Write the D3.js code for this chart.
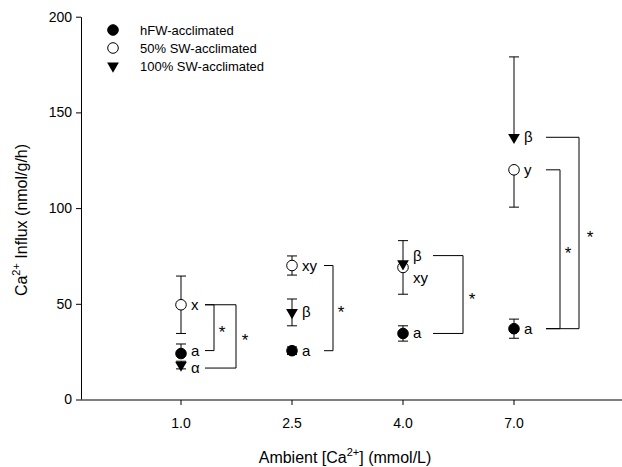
<!DOCTYPE html>
<html>
<head>
<meta charset="utf-8">
<script src="https://cdn.jsdelivr.net/npm/d3@7"></script>
<style>
  html, body { margin: 0; padding: 0; background: #fff; }
  svg { display: block; font-family: Arial, "Liberation Sans", sans-serif; }
</style>
</head>
<body>
<svg id="chart" width="622" height="467"></svg>
<script>
// Ambient calcium levels (mmol/L)
const categories = ["1.0", "2.5", "4.0", "7.0"];

// Ca2+ influx (nmol/g/h), mean and SEM for each acclimation group
const hfwMean  = [24, 25.5, 34.5, 37];
const hfwErr   = [5, 2, 4, 5];
const sw50Mean = [49.5, 70, 69, 120];
const sw50Err  = [15, 5, 14, 19.5];
const sw100Mean = [18, 45.5, 71, 137];
const sw100Err  = [2, 7, 12, 42];

// Significance letters within each group
const hfwLetters   = ["a", "a", "a", "a"];
const sw50Letters  = ["x", "xy", "xy", "y"];
const sw100Letters = ["α", "β", "β", "β"];

const yTicks = [0, 50, 100, 150, 200];
const seriesNames = ["hFW-acclimated", "50% SW-acclimated", "100% SW-acclimated"];

// Pairwise comparisons between groups (category index, upper group, lower group)
const comparisons = [
  { cat: 0, top: "sw50", bottom: "hfw" },
  { cat: 0, top: "sw50", bottom: "sw100" },
  { cat: 1, top: "sw50", bottom: "hfw" },
  { cat: 2, top: "sw100", bottom: "hfw" },
  { cat: 3, top: "sw50", bottom: "hfw" },
  { cat: 3, top: "sw100", bottom: "hfw" }
];

const svg = d3.select("#chart");

const y = d3.scaleLinear().domain([0, 200]).range([399.5, 16.7]);
const xi = d3.scaleLinear().domain([0, 3]).range([181, 514]);
const xAxisLeft = 81, xAxisRight = 622, xAxisY = 400;

const series = {
  hfw:   { mean: hfwMean,   err: hfwErr,   letters: hfwLetters,   shape: "filled" },
  sw50:  { mean: sw50Mean,  err: sw50Err,  letters: sw50Letters,  shape: "open" },
  sw100: { mean: sw100Mean, err: sw100Err, letters: sw100Letters, shape: "tri" }
};
// which whiskers are drawn: "both", "up" or "down"
const whiskerDir = {
  hfw:   ["up", "both", "both", "both"],
  sw50:  ["both", "both", "down", "down"],
  sw100: ["both", "both", "up", "up"]
};
// vertical nudges for letters so neighbouring labels do not collide
const letterDy = {
  hfw:   [-3, 0, 0, 0],
  sw50:  [0, 0, 11, 0],
  sw100: [3, 0, -8, 0]
};
// bracket geometry relative to the category position
const bracketGeom = [
  { left: 24, vert: 33, star: 41 },
  { left: 24, vert: 55, star: 64 },
  { left: 32, vert: 41, star: 49 },
  { left: 30, vert: 60, star: 69 },
  { left: 32, vert: 46, star: 54 },
  { left: 32, vert: 65, star: 76 }
];

// ---- Y axis ----
const yAxis = d3.axisLeft(y).tickValues(yTicks).tickSize(5).tickSizeOuter(0).tickPadding(4);
const gy = svg.append("g").attr("transform", `translate(${xAxisLeft},0)`).call(yAxis);
gy.select(".domain").attr("stroke", "#000").attr("stroke-width", 1);
gy.selectAll(".tick line").attr("stroke", "#000");
gy.selectAll(".tick text").attr("font-size", 14).attr("fill", "#000")
  .attr("font-family", 'Arial, "Liberation Sans", sans-serif');

// ---- X axis ----
svg.append("line")
  .attr("x1", xAxisLeft).attr("x2", xAxisRight)
  .attr("y1", xAxisY).attr("y2", xAxisY)
  .attr("stroke", "#555").attr("stroke-width", 1.6);
const gx = svg.append("g");
categories.forEach((c, i) => {
  gx.append("line")
    .attr("x1", xi(i)).attr("x2", xi(i))
    .attr("y1", xAxisY).attr("y2", xAxisY + 5)
    .attr("stroke", "#000");
  gx.append("text")
    .attr("x", xi(i)).attr("y", xAxisY + 28)
    .attr("text-anchor", "middle").attr("font-size", 14)
    .text(c);
});

// ---- Axis titles ----
const xt = svg.append("text")
  .attr("x", 345).attr("y", 463)
  .attr("text-anchor", "middle").attr("font-size", 16);
xt.append("tspan").text("Ambient [Ca");
xt.append("tspan").attr("dy", -7).attr("font-size", 11).text("2+");
xt.append("tspan").attr("dy", 7).text("] (mmol/L)");

const yt = svg.append("text")
  .attr("transform", "translate(27,220) rotate(-90)")
  .attr("text-anchor", "middle").attr("font-size", 16);
yt.append("tspan").text("Ca");
yt.append("tspan").attr("dy", -7).attr("font-size", 11).text("2+");
yt.append("tspan").attr("dy", 7).text(" Influx (nmol/g/h)");

// ---- Markers ----
function drawMarker(g, shape, cx, cy) {
  if (shape === "filled") {
    g.append("circle").attr("cx", cx).attr("cy", cy).attr("r", 5.3)
      .attr("fill", "#000").attr("stroke", "#000");
  } else if (shape === "open") {
    g.append("circle").attr("cx", cx).attr("cy", cy).attr("r", 5.3)
      .attr("fill", "#fff").attr("stroke", "#000").attr("stroke-width", 1);
  } else {
    const tri = d3.symbol().type(d3.symbolTriangle).size(60)();
    g.append("path").attr("d", tri)
      .attr("transform", `translate(${cx},${cy}) rotate(180)`)
      .attr("fill", "#000");
  }
}

const plot = svg.append("g");
["hfw", "sw50", "sw100"].forEach(key => {
  const s = series[key];
  const g = plot.append("g");
  s.mean.forEach((m, i) => {
    const cx = xi(i);
    const dir = whiskerDir[key][i];
    const hi = dir === "down" ? m : m + s.err[i];
    const lo = dir === "up" ? m : m - s.err[i];
    g.append("line").attr("x1", cx).attr("x2", cx)
      .attr("y1", y(hi)).attr("y2", y(lo)).attr("stroke", "#000");
    if (dir !== "down") {
      g.append("line").attr("x1", cx - 5).attr("x2", cx + 5)
        .attr("y1", y(hi)).attr("y2", y(hi)).attr("stroke", "#000");
    }
    if (dir !== "up") {
      g.append("line").attr("x1", cx - 5).attr("x2", cx + 5)
        .attr("y1", y(lo)).attr("y2", y(lo)).attr("stroke", "#000");
    }
    drawMarker(g, s.shape, cx, y(m));
  });
});

// ---- Letters ----
function letterY(key, i) {
  return y(series[key].mean[i]) + letterDy[key][i];
}
["hfw", "sw50", "sw100"].forEach(key => {
  const s = series[key];
  s.letters.forEach((t, i) => {
    plot.append("text")
      .attr("x", xi(i) + 10).attr("y", letterY(key, i) + 5)
      .attr("font-size", 15).text(t);
  });
});

// ---- Significance brackets ----
comparisons.forEach((c, k) => {
  const geo = bracketGeom[k];
  const cx = xi(c.cat);
  const yTop = letterY(c.top, c.cat);
  const yBot = letterY(c.bottom, c.cat);
  const xl = cx + geo.left, xv = cx + geo.vert;
  plot.append("path")
    .attr("d", `M${xl},${yTop}H${xv}V${yBot}H${xl}`)
    .attr("fill", "none").attr("stroke", "#000");
  plot.append("text")
    .attr("x", cx + geo.star).attr("y", (yTop + yBot) / 2 + 10)
    .attr("text-anchor", "middle").attr("font-size", 17).text("*");
});

// ---- Legend ----
const legend = svg.append("g");
["filled", "open", "tri"].forEach((shape, i) => {
  const ly = 30 + i * 18;
  drawMarker(legend, shape, 113, ly);
  legend.append("text").attr("x", 140).attr("y", ly + 5)
    .attr("font-size", 13).text(seriesNames[i]);
});
</script>
</body>
</html>
